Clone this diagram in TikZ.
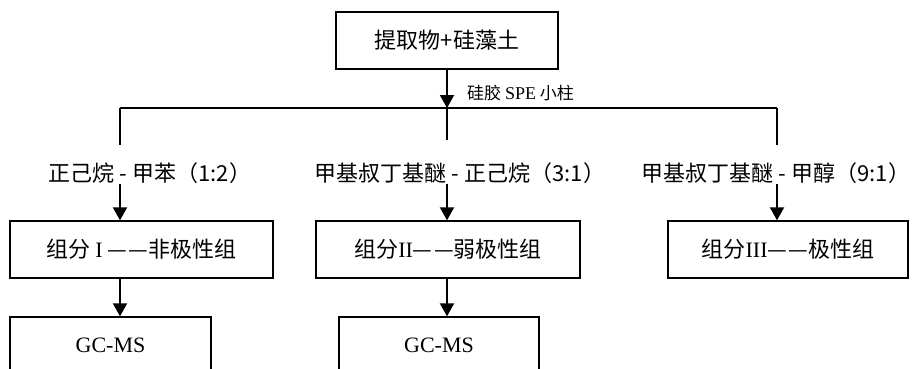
\documentclass[tikz,border=0pt]{standalone}
\usepackage{fontspec}
\setmainfont{Liberation Serif}
\newfontfamily\cjk{Noto Sans CJK SC}
\usetikzlibrary{arrows.meta}
\newcommand{\ddash}{—\hspace{1.5pt}—}
\newcommand{\sep}{\hspace{5pt}-\hspace{5pt}}

\begin{document}
\begin{tikzpicture}[
  x=1pt, y=-1pt,
  stage/.style={rectangle, draw, line width=1.4pt, minimum height=57pt, inner sep=0pt, font=\cjk\fontsize{22}{26}\selectfont},
  eluent/.style={inner sep=0pt, font=\cjk\fontsize{22}{26}\selectfont},
  flow/.style={draw, line width=2pt, -{Triangle[width=14pt,length=13pt]}},
  rail/.style={draw, line width=1.2pt}
]
\useasboundingbox (0,0) rectangle (912,368);
\clip (0,0) rectangle (912,368);

% Sample and SPE column
\node[stage, minimum width=222pt] (sample) at (447,40.5) {提取物+硅藻土};
\node[anchor=west, inner sep=0pt, font=\cjk\fontsize{17}{20}\selectfont] (spe) at (467,93) {硅胶 {\rmfamily\fontsize{18}{20}\selectfont SPE} 小柱};
\coordinate (hub) at (447,108);
\coordinate (left) at (120,108);
\coordinate (right) at (777,108);

\draw[flow] (sample) -- (hub);
\draw[rail] (left) -- (right);

% Eluents
\node[eluent] (hexane) at (150,173) {正己烷\sep 甲苯（1:2）};
\node[eluent] (mtbe) at (460,173) {甲基叔丁基醚\sep 正己烷（3:1）};
\node[eluent] (meoh) at (776,173) {甲基叔丁基醚\sep 甲醇（9:1）};

\draw[rail, shorten >=17pt] (left) -- (left |- hexane.north);
\draw[rail, shorten >=22pt] (hub) -- (hub |- mtbe.north);
\draw[rail, shorten >=17pt] (right) -- (right |- meoh.north);

% Fractions
\node[stage, minimum width=263pt] (frac1) at (141.5,249.5) {组分 {\rmfamily I} \ddash 非极性组};
\node[stage, minimum width=264pt] (frac2) at (448,249.5) {组分{\rmfamily II}\ddash 弱极性组};
\node[stage, minimum width=240pt] (frac3) at (788,249.5) {组分{\rmfamily III}\ddash 极性组};

\draw[flow] (hexane.south -| left) -- (frac1.north -| left);
\draw[flow] (mtbe.south -| hub) -- (frac2.north -| hub);
\draw[flow] (meoh.south -| right) -- (frac3.north -| right);

% Analysis
\node[stage, minimum width=201pt] (gcms1) at (110.5,345.5) {\rmfamily GC-MS};
\node[stage, minimum width=200pt] (gcms2) at (439,345.5) {\rmfamily GC-MS};

\draw[flow] (frac1.south -| left) -- (gcms1.north -| left);
\draw[flow] (frac2.south -| hub) -- (gcms2.north -| hub);

\end{tikzpicture}
\end{document}
